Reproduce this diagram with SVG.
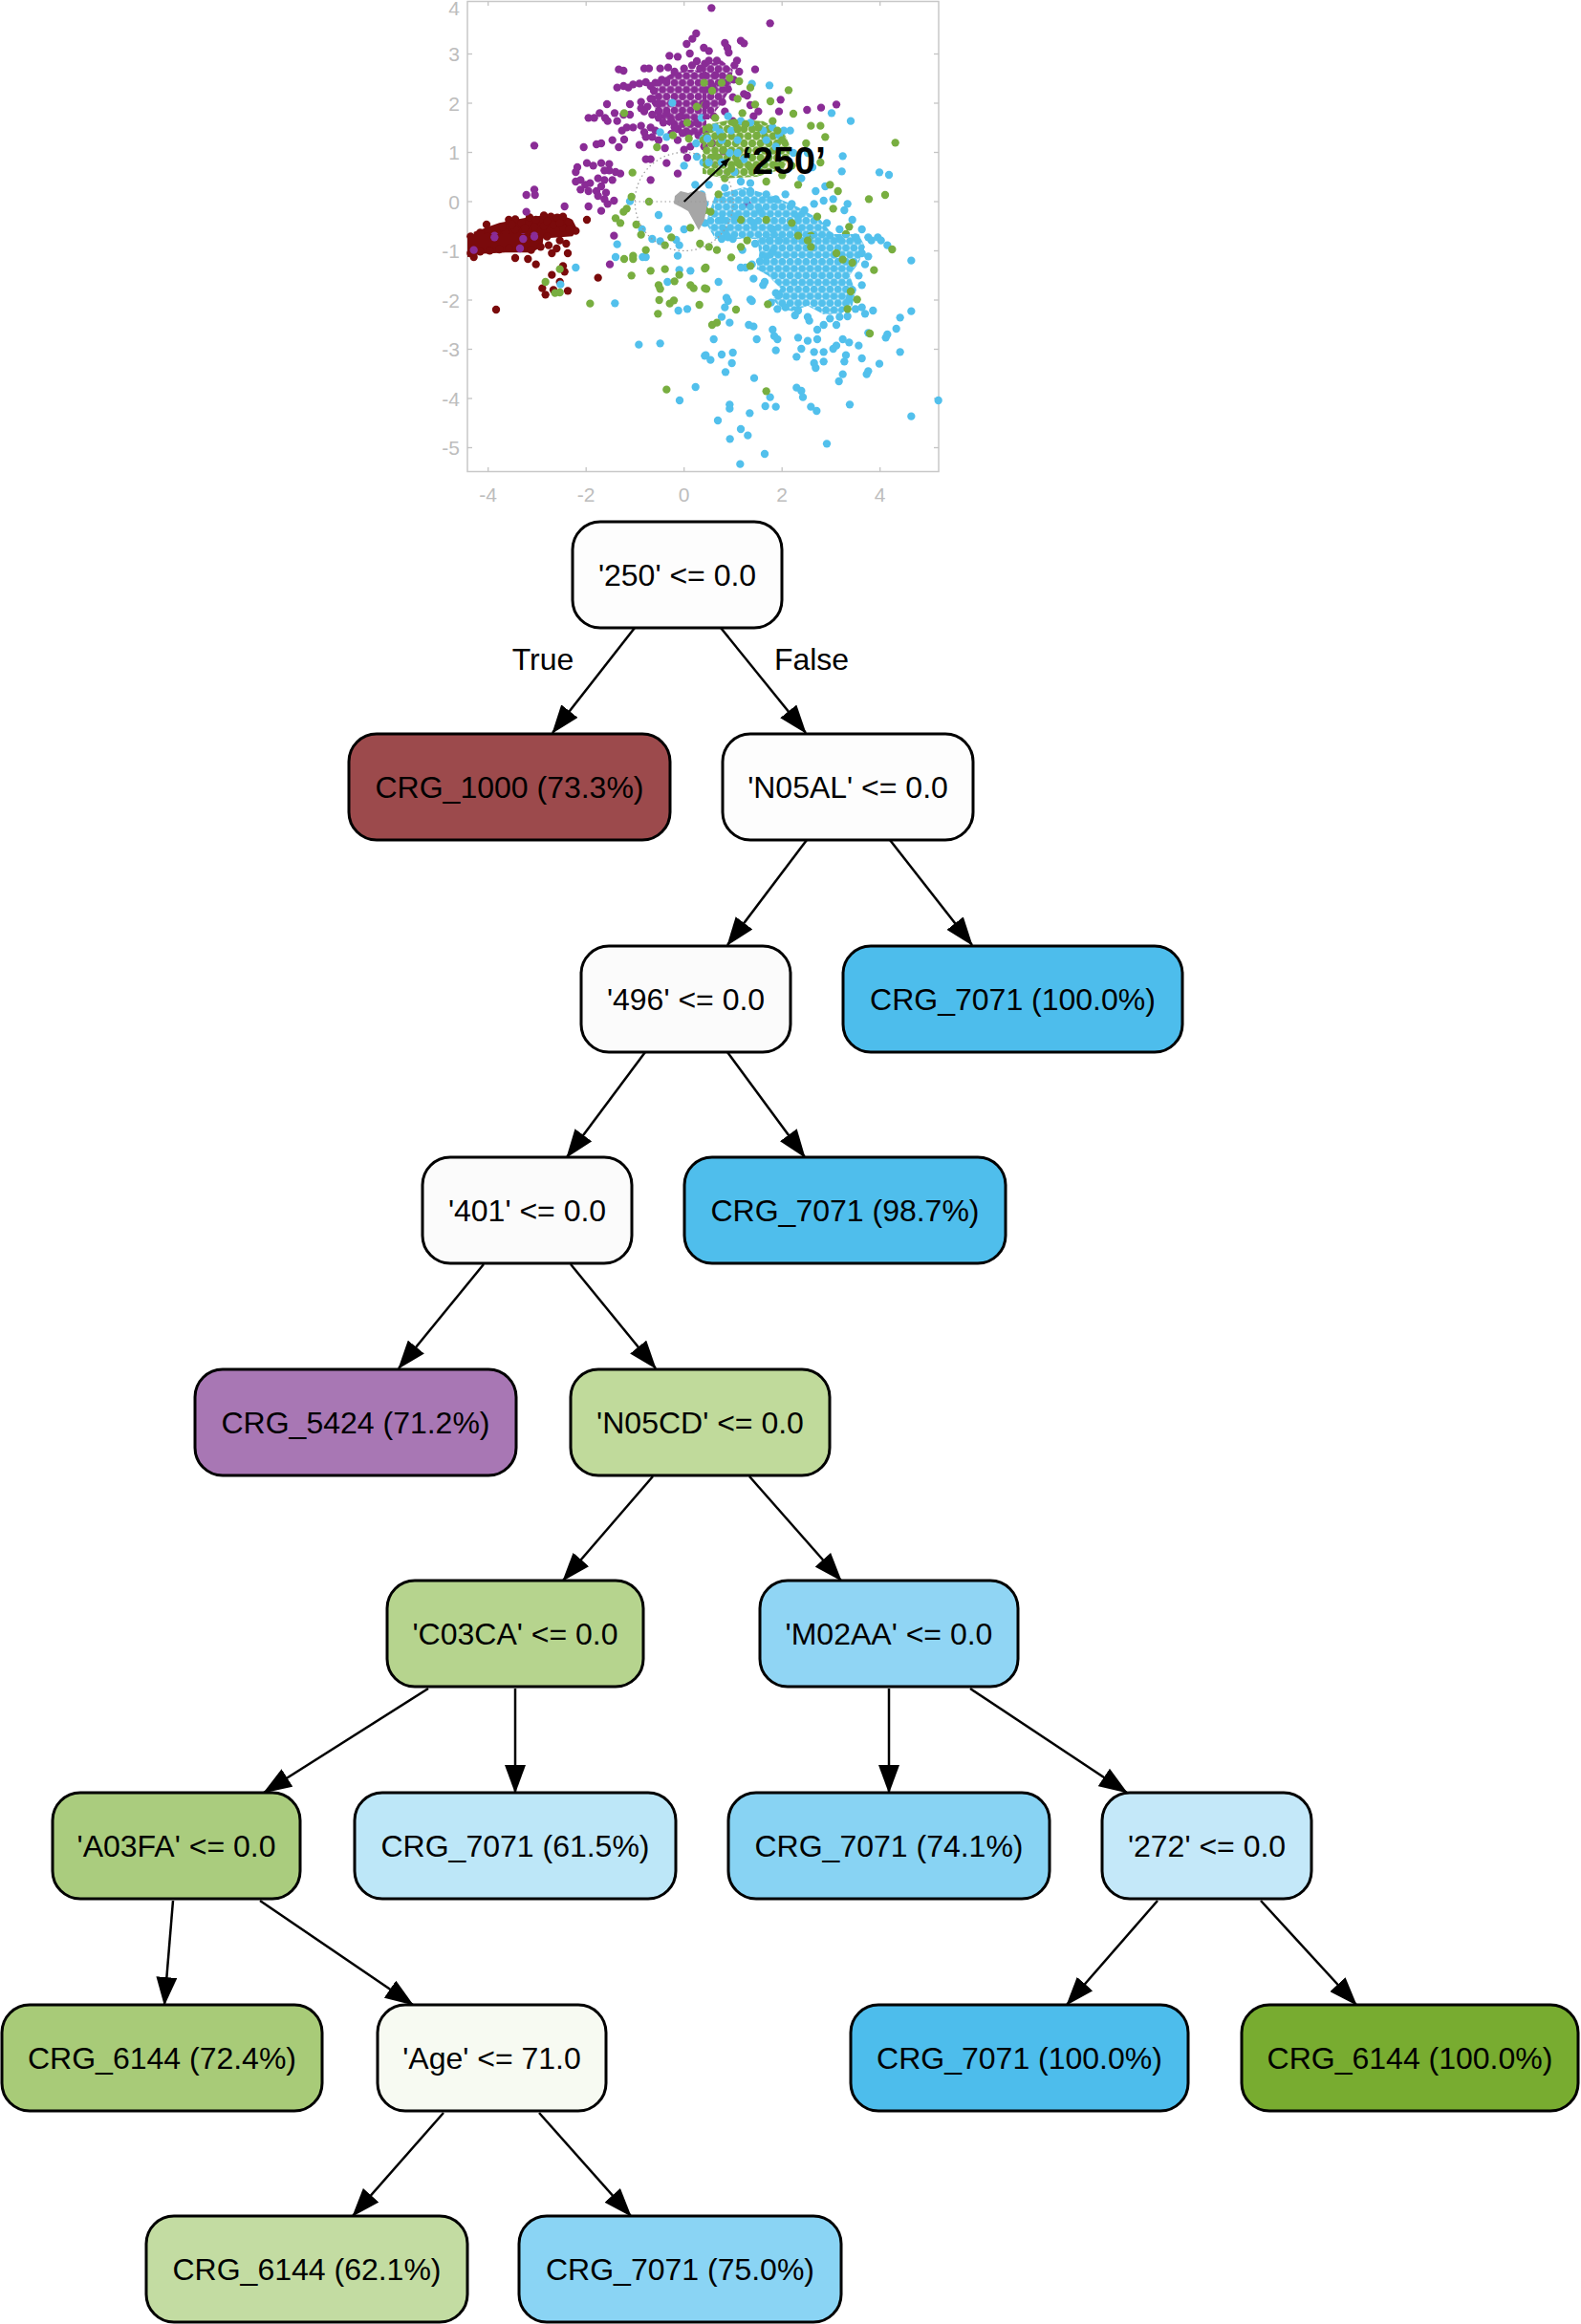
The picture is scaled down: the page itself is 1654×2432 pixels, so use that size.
<svg xmlns="http://www.w3.org/2000/svg" width="1654" height="2432" viewBox="0 0 1654 2432">
<defs>
<marker id="ah" markerUnits="userSpaceOnUse" markerWidth="30" markerHeight="22" refX="29" refY="11" orient="auto"><path d="M0,0 L30,11 L0,22 z" fill="#000"/></marker>
<marker id="ahs" markerUnits="userSpaceOnUse" markerWidth="10" markerHeight="8" refX="9" refY="4" orient="auto"><path d="M0,0 L10,4 L0,8 z" fill="#000"/></marker>
<pattern id="pp" patternUnits="userSpaceOnUse" width="25" height="43.3"><g fill="#8a2c96"><circle cx="0" cy="0" r="12.5"/><circle cx="25" cy="0" r="12.5"/><circle cx="12.5" cy="21.65" r="12.5"/><circle cx="0" cy="43.3" r="12.5"/><circle cx="25" cy="43.3" r="12.5"/></g></pattern>
<pattern id="pcy" patternUnits="userSpaceOnUse" width="25" height="43.3"><g fill="#52c0ec"><circle cx="0" cy="0" r="12.5"/><circle cx="25" cy="0" r="12.5"/><circle cx="12.5" cy="21.65" r="12.5"/><circle cx="0" cy="43.3" r="12.5"/><circle cx="25" cy="43.3" r="12.5"/></g></pattern>
<pattern id="pg" patternUnits="userSpaceOnUse" width="26" height="45"><g fill="#78ae40"><circle cx="0" cy="0" r="12.5"/><circle cx="26" cy="0" r="12.5"/><circle cx="13" cy="22.5" r="12.5"/><circle cx="0" cy="45" r="12.5"/><circle cx="26" cy="45" r="12.5"/></g></pattern>
</defs>
<style>
.n rect{stroke:#000;stroke-width:3}
.n text,.lbl{font-family:"Liberation Sans",Arial,Helvetica,sans-serif;font-size:32px;text-anchor:middle;fill:#000}
#connectors line{stroke:#000;stroke-width:2.5;marker-end:url(#ah)}
.m{fill:#7a0a0b}.p{fill:#8a2c96}.g{fill:#78ae40}.c{fill:#52c0ec}.gr{fill:#a6a6a6}
.ax text{font-family:"Liberation Sans",Arial,sans-serif;font-size:21px;fill:#bdbdbd}
.ax line{stroke:#c4c4c4;stroke-width:1.3}
</style>
<rect width="1654" height="2432" fill="#fff"/>

<g id="scatter">
<g class="ax">
<rect x="489" y="1.5" width="493" height="492" fill="none" stroke="#c8c8c8" stroke-width="1.5"/>
<line x1="510.7" y1="1.5" x2="510.7" y2="6"/><line x1="613.2" y1="1.5" x2="613.2" y2="6"/><line x1="715.7" y1="1.5" x2="715.7" y2="6"/><line x1="818.2" y1="1.5" x2="818.2" y2="6"/><line x1="920.7" y1="1.5" x2="920.7" y2="6"/>
<line x1="510.7" y1="493.5" x2="510.7" y2="489"/><line x1="613.2" y1="493.5" x2="613.2" y2="489"/><line x1="715.7" y1="493.5" x2="715.7" y2="489"/><line x1="818.2" y1="493.5" x2="818.2" y2="489"/><line x1="920.7" y1="493.5" x2="920.7" y2="489"/>
<line x1="489" y1="56.5" x2="494" y2="56.5"/><line x1="489" y1="108" x2="494" y2="108"/><line x1="489" y1="159.5" x2="494" y2="159.5"/><line x1="489" y1="211" x2="494" y2="211"/><line x1="489" y1="262.5" x2="494" y2="262.5"/><line x1="489" y1="314" x2="494" y2="314"/><line x1="489" y1="365.5" x2="494" y2="365.5"/><line x1="489" y1="417" x2="494" y2="417"/><line x1="489" y1="468.5" x2="494" y2="468.5"/>
<line x1="982" y1="56.5" x2="977" y2="56.5"/><line x1="982" y1="108" x2="977" y2="108"/><line x1="982" y1="159.5" x2="977" y2="159.5"/><line x1="982" y1="211" x2="977" y2="211"/><line x1="982" y1="262.5" x2="977" y2="262.5"/><line x1="982" y1="314" x2="977" y2="314"/><line x1="982" y1="365.5" x2="977" y2="365.5"/><line x1="982" y1="417" x2="977" y2="417"/><line x1="982" y1="468.5" x2="977" y2="468.5"/>
<g text-anchor="end">
<text x="481" y="16">4</text><text x="481" y="64">3</text><text x="481" y="115.5">2</text><text x="481" y="167">1</text><text x="481" y="218.5">0</text><text x="481" y="270">-1</text><text x="481" y="321.5">-2</text><text x="481" y="373">-3</text><text x="481" y="424.5">-4</text><text x="481" y="476">-5</text>
</g>
<g text-anchor="middle">
<text x="510.7" y="525">-4</text><text x="613.2" y="525">-2</text><text x="715.7" y="525">0</text><text x="818.2" y="525">2</text><text x="920.7" y="525">4</text>
</g>
</g>

<!-- Q1 -->
<g transform="translate(489,0) scale(0.33333)">
<path class="m" d="M20,728 L100,700 L200,680 L290,672 L330,690 L345,720 L330,742 L250,748 L150,750 L20,752 z"/>
<g class="m">
<circle cx="60" cy="705" r="12.5"/><circle cx="130" cy="690" r="12.5"/><circle cx="150" cy="688" r="12.5"/><circle cx="170" cy="700" r="12.5"/><circle cx="195" cy="682" r="12.5"/><circle cx="215" cy="690" r="12.5"/><circle cx="240" cy="676" r="12.5"/><circle cx="262" cy="680" r="12.5"/><circle cx="282" cy="683" r="12.5"/><circle cx="300" cy="680" r="12.5"/><circle cx="318" cy="698" r="12.5"/><circle cx="340" cy="725" r="12.5"/><circle cx="300" cy="715" r="12.5"/><circle cx="270" cy="706" r="12.5"/><circle cx="240" cy="710" r="12.5"/><circle cx="210" cy="712" r="12.5"/><circle cx="180" cy="716" r="12.5"/><circle cx="150" cy="720" r="12.5"/><circle cx="120" cy="730" r="12.5"/><circle cx="92" cy="736" r="12.5"/><circle cx="62" cy="742" r="12.5"/><circle cx="32" cy="746" r="12.5"/><circle cx="10" cy="742" r="12.5"/><circle cx="375" cy="690" r="12.5"/><circle cx="250" cy="695" r="12.5"/><circle cx="110" cy="712" r="12.5"/><circle cx="140" cy="705" r="12.5"/><circle cx="290" cy="700" r="12.5"/><circle cx="320" cy="720" r="12.5"/><circle cx="40" cy="730" r="12.5"/>
</g>
<path fill="url(#pp)" d="M600,255 L645,228 L700,218 L750,225 L750,415 L700,425 L660,412 L625,390 L598,355 L578,325 L590,290 z"/>
<g class="p">
<circle cx="718" cy="105" r="12.5"/><circle cx="706" cy="122" r="12.5"/><circle cx="688" cy="138" r="12.5"/><circle cx="634" cy="175" r="12.5"/><circle cx="660" cy="178" r="12.5"/><circle cx="698" cy="168" r="12.5"/><circle cx="720" cy="192" r="12.5"/><circle cx="742" cy="150" r="12.5"/>
<circle cx="475" cy="218" r="12.5"/><circle cx="490" cy="222" r="12.5"/><circle cx="555" cy="215" r="12.5"/><circle cx="570" cy="215" r="12.5"/><circle cx="605" cy="215" r="12.5"/><circle cx="630" cy="212" r="12.5"/><circle cx="650" cy="225" r="12.5"/><circle cx="680" cy="215" r="12.5"/><circle cx="730" cy="215" r="12.5"/><circle cx="705" cy="205" r="12.5"/><circle cx="745" cy="200" r="12.5"/>
<circle cx="470" cy="275" r="12.5"/><circle cx="490" cy="270" r="12.5"/><circle cx="505" cy="275" r="12.5"/><circle cx="520" cy="265" r="12.5"/><circle cx="540" cy="262" r="12.5"/><circle cx="560" cy="258" r="12.5"/><circle cx="575" cy="270" r="12.5"/><circle cx="590" cy="260" r="12.5"/><circle cx="610" cy="250" r="12.5"/><circle cx="625" cy="255" r="12.5"/><circle cx="585" cy="285" r="12.5"/><circle cx="580" cy="310" r="12.5"/>
<circle cx="438" cy="327" r="12.5"/><circle cx="510" cy="327" r="12.5"/><circle cx="545" cy="320" r="12.5"/><circle cx="575" cy="310" r="12.5"/><circle cx="600" cy="325" r="12.5"/><circle cx="600" cy="350" r="12.5"/><circle cx="625" cy="355" r="12.5"/><circle cx="565" cy="335" r="12.5"/>
<circle cx="380" cy="370" r="12.5"/><circle cx="398" cy="370" r="12.5"/><circle cx="415" cy="355" r="12.5"/><circle cx="432" cy="370" r="12.5"/><circle cx="440" cy="380" r="12.5"/><circle cx="462" cy="355" r="12.5"/><circle cx="470" cy="380" r="12.5"/><circle cx="490" cy="360" r="12.5"/><circle cx="510" cy="360" r="12.5"/><circle cx="545" cy="340" r="12.5"/><circle cx="555" cy="350" r="12.5"/><circle cx="580" cy="360" r="12.5"/><circle cx="600" cy="370" r="12.5"/><circle cx="640" cy="380" r="12.5"/><circle cx="670" cy="365" r="12.5"/><circle cx="720" cy="385" r="12.5"/><circle cx="615" cy="385" r="12.5"/>
<circle cx="485" cy="410" r="12.5"/><circle cx="500" cy="400" r="12.5"/><circle cx="520" cy="400" r="12.5"/><circle cx="545" cy="395" r="12.5"/><circle cx="555" cy="415" r="12.5"/><circle cx="575" cy="400" r="12.5"/><circle cx="590" cy="410" r="12.5"/><circle cx="580" cy="430" r="12.5"/><circle cx="600" cy="440" r="12.5"/><circle cx="640" cy="420" r="12.5"/><circle cx="660" cy="405" r="12.5"/><circle cx="695" cy="420" r="12.5"/><circle cx="745" cy="410" r="12.5"/><circle cx="675" cy="418" r="12.5"/><circle cx="725" cy="425" r="12.5"/><circle cx="650" cy="400" r="12.5"/>
<circle cx="210" cy="457" r="12.5"/><circle cx="365" cy="462" r="12.5"/><circle cx="405" cy="453" r="12.5"/><circle cx="420" cy="450" r="12.5"/><circle cx="455" cy="440" r="12.5"/><circle cx="475" cy="462" r="12.5"/><circle cx="492" cy="438" r="12.5"/><circle cx="540" cy="455" r="12.5"/><circle cx="560" cy="430" r="12.5"/><circle cx="620" cy="465" r="12.5"/><circle cx="660" cy="440" r="12.5"/><circle cx="700" cy="460" r="12.5"/><circle cx="680" cy="470" r="12.5"/>
<circle cx="560" cy="500" r="12.5"/><circle cx="575" cy="500" r="12.5"/><circle cx="625" cy="512" r="12.5"/><circle cx="660" cy="545" r="12.5"/><circle cx="690" cy="495" r="12.5"/>
<circle cx="345" cy="525" r="12.5"/><circle cx="340" cy="540" r="12.5"/><circle cx="375" cy="512" r="12.5"/><circle cx="395" cy="520" r="12.5"/><circle cx="420" cy="512" r="12.5"/><circle cx="445" cy="515" r="12.5"/><circle cx="445" cy="535" r="12.5"/><circle cx="465" cy="540" r="12.5"/><circle cx="480" cy="545" r="12.5"/><circle cx="430" cy="535" r="12.5"/>
<circle cx="340" cy="570" r="12.5"/><circle cx="355" cy="565" r="12.5"/><circle cx="370" cy="580" r="12.5"/><circle cx="385" cy="575" r="12.5"/><circle cx="410" cy="560" r="12.5"/><circle cx="430" cy="565" r="12.5"/><circle cx="455" cy="565" r="12.5"/><circle cx="420" cy="585" r="12.5"/><circle cx="355" cy="595" r="12.5"/><circle cx="380" cy="600" r="12.5"/><circle cx="405" cy="600" r="12.5"/><circle cx="410" cy="615" r="12.5"/><circle cx="435" cy="605" r="12.5"/><circle cx="460" cy="630" r="12.5"/><circle cx="430" cy="625" r="12.5"/><circle cx="575" cy="565" r="12.5"/>
<circle cx="185" cy="612" r="12.5"/><circle cx="210" cy="595" r="12.5"/><circle cx="212" cy="612" r="12.5"/><circle cx="305" cy="648" r="12.5"/><circle cx="185" cy="665" r="12.5"/><circle cx="380" cy="648" r="12.5"/><circle cx="420" cy="662" r="12.5"/><circle cx="440" cy="640" r="12.5"/>
<circle cx="85" cy="740" r="12.5"/><circle cx="175" cy="745" r="12.5"/><circle cx="210" cy="740" r="12.5"/>
</g>
<g class="c">
<circle cx="643" cy="323" r="12.5"/><circle cx="735" cy="370" r="12.5"/><circle cx="605" cy="415" r="12.5"/><circle cx="625" cy="430" r="12.5"/><circle cx="740" cy="435" r="12.5"/><circle cx="718" cy="450" r="12.5"/><circle cx="720" cy="492" r="12.5"/><circle cx="680" cy="520" r="12.5"/><circle cx="740" cy="510" r="12.5"/><circle cx="510" cy="632" r="12.5"/><circle cx="715" cy="580" r="12.5"/><circle cx="735" cy="610" r="12.5"/><circle cx="600" cy="675" r="12.5"/><circle cx="630" cy="718" r="12.5"/><circle cx="548" cy="720" r="12.5"/><circle cx="680" cy="720" r="12.5"/><circle cx="745" cy="700" r="12.5"/><circle cx="745" cy="640" r="12.5"/>
</g>
<g class="g">
<circle cx="720" cy="335" r="12.5"/><circle cx="492" cy="355" r="12.5"/><circle cx="690" cy="385" r="12.5"/><circle cx="695" cy="435" r="12.5"/><circle cx="645" cy="425" r="12.5"/><circle cx="595" cy="462" r="12.5"/><circle cx="518" cy="542" r="12.5"/><circle cx="570" cy="633" r="12.5"/><circle cx="515" cy="618" r="12.5"/><circle cx="500" cy="655" r="12.5"/><circle cx="490" cy="665" r="12.5"/><circle cx="465" cy="685" r="12.5"/><circle cx="480" cy="700" r="12.5"/><circle cx="530" cy="705" r="12.5"/><circle cx="700" cy="715" r="12.5"/><circle cx="745" cy="660" r="12.5"/><circle cx="720" cy="655" r="12.5"/><circle cx="745" cy="330" r="12.5"/><circle cx="740" cy="440" r="12.5"/>
</g>
</g>

<!-- Q3 -->
<g transform="translate(489,245) scale(0.33333)">
<path class="m" d="M0,0 L240,0 L235,40 L200,58 L120,58 L40,62 L0,72 z"/>
<g class="m">
<circle cx="150" cy="75" r="12.5"/><circle cx="190" cy="78" r="12.5"/><circle cx="215" cy="95" r="12.5"/><circle cx="200" cy="50" r="12.5"/><circle cx="230" cy="40" r="12.5"/><circle cx="255" cy="35" r="12.5"/><circle cx="265" cy="60" r="12.5"/><circle cx="290" cy="20" r="12.5"/><circle cx="310" cy="30" r="12.5"/><circle cx="315" cy="60" r="12.5"/><circle cx="300" cy="100" r="12.5"/><circle cx="305" cy="118" r="12.5"/><circle cx="265" cy="128" r="12.5"/><circle cx="235" cy="170" r="12.5"/><circle cx="245" cy="190" r="12.5"/><circle cx="270" cy="175" r="12.5"/><circle cx="290" cy="150" r="12.5"/><circle cx="315" cy="178" r="12.5"/><circle cx="410" cy="137" r="12.5"/><circle cx="90" cy="237" r="12.5"/><circle cx="10" cy="60" r="12.5"/><circle cx="40" cy="55" r="12.5"/><circle cx="70" cy="52" r="12.5"/><circle cx="100" cy="48" r="12.5"/><circle cx="130" cy="44" r="12.5"/><circle cx="250" cy="8" r="12.5"/><circle cx="280" cy="45" r="12.5"/><circle cx="20" cy="72" r="12.5"/>
</g>
<g class="p">
<circle cx="85" cy="10" r="12.5"/><circle cx="175" cy="15" r="12.5"/><circle cx="210" cy="8" r="12.5"/><circle cx="20" cy="50" r="12.5"/><circle cx="165" cy="45" r="12.5"/><circle cx="460" cy="5" r="12.5"/><circle cx="447" cy="95" r="12.5"/>
</g>
<g class="c">
<circle cx="340" cy="105" r="12.5"/><circle cx="292" cy="158" r="12.5"/><circle cx="470" cy="32" r="12.5"/><circle cx="465" cy="72" r="12.5"/><circle cx="550" cy="72" r="12.5"/><circle cx="560" cy="72" r="12.5"/><circle cx="580" cy="15" r="12.5"/><circle cx="605" cy="22" r="12.5"/><circle cx="655" cy="18" r="12.5"/><circle cx="665" cy="35" r="12.5"/><circle cx="660" cy="68" r="12.5"/><circle cx="665" cy="112" r="12.5"/><circle cx="700" cy="115" r="12.5"/><circle cx="628" cy="150" r="12.5"/><circle cx="690" cy="235" r="12.5"/><circle cx="662" cy="240" r="12.5"/><circle cx="463" cy="217" r="12.5"/><circle cx="538" cy="347" r="12.5"/><circle cx="605" cy="343" r="12.5"/><circle cx="745" cy="382" r="12.5"/><circle cx="716" cy="480" r="12.5"/><circle cx="666" cy="522" r="12.5"/>
</g>
<g class="g">
<circle cx="290" cy="110" r="12.5"/><circle cx="245" cy="150" r="12.5"/><circle cx="275" cy="185" r="12.5"/><circle cx="290" cy="183" r="12.5"/><circle cx="545" cy="2" r="12.5"/><circle cx="640" cy="10" r="12.5"/><circle cx="620" cy="35" r="12.5"/><circle cx="492" cy="78" r="12.5"/><circle cx="520" cy="68" r="12.5"/><circle cx="520" cy="78" r="12.5"/><circle cx="560" cy="50" r="12.5"/><circle cx="515" cy="130" r="12.5"/><circle cx="575" cy="115" r="12.5"/><circle cx="620" cy="110" r="12.5"/><circle cx="650" cy="148" r="12.5"/><circle cx="665" cy="128" r="12.5"/><circle cx="600" cy="160" r="12.5"/><circle cx="605" cy="172" r="12.5"/><circle cx="700" cy="160" r="12.5"/><circle cx="710" cy="170" r="12.5"/><circle cx="745" cy="108" r="12.5"/><circle cx="745" cy="170" r="12.5"/><circle cx="602" cy="207" r="12.5"/><circle cx="635" cy="218" r="12.5"/><circle cx="648" cy="208" r="12.5"/><circle cx="728" cy="222" r="12.5"/><circle cx="598" cy="250" r="12.5"/><circle cx="385" cy="218" r="12.5"/><circle cx="625" cy="488" r="12.5"/><circle cx="730" cy="30" r="12.5"/>
</g>
</g>

<!-- Q2 -->
<g transform="translate(735,0) scale(0.33333)">
<path fill="url(#pp)" d="M0,205 L60,190 L95,218 L88,278 L58,328 L20,375 L0,375 z"/>
<g class="p">
<circle cx="28" cy="25" r="12.5"/><circle cx="212" cy="73" r="12.5"/><circle cx="70" cy="135" r="12.5"/><circle cx="78" cy="150" r="12.5"/><circle cx="120" cy="128" r="12.5"/><circle cx="130" cy="136" r="12.5"/><circle cx="20" cy="160" r="12.5"/><circle cx="82" cy="165" r="12.5"/><circle cx="108" cy="190" r="12.5"/><circle cx="100" cy="205" r="12.5"/><circle cx="115" cy="225" r="12.5"/><circle cx="165" cy="218" r="12.5"/><circle cx="20" cy="190" r="12.5"/><circle cx="45" cy="190" r="12.5"/><circle cx="40" cy="235" r="12.5"/><circle cx="30" cy="270" r="12.5"/><circle cx="80" cy="280" r="12.5"/><circle cx="95" cy="305" r="12.5"/><circle cx="130" cy="295" r="12.5"/><circle cx="140" cy="300" r="12.5"/><circle cx="150" cy="330" r="12.5"/><circle cx="175" cy="350" r="12.5"/><circle cx="160" cy="365" r="12.5"/><circle cx="10" cy="330" r="12.5"/><circle cx="70" cy="350" r="12.5"/><circle cx="95" cy="380" r="12.5"/><circle cx="10" cy="410" r="12.5"/><circle cx="30" cy="450" r="12.5"/><circle cx="5" cy="460" r="12.5"/><circle cx="245" cy="313" r="12.5"/><circle cx="240" cy="350" r="12.5"/><circle cx="328" cy="345" r="12.5"/><circle cx="372" cy="338" r="12.5"/><circle cx="420" cy="328" r="12.5"/><circle cx="65" cy="475" r="12.5"/><circle cx="140" cy="640" r="12.5"/><circle cx="98" cy="250" r="12.5"/><circle cx="62" cy="320" r="12.5"/><circle cx="35" cy="365" r="12.5"/>
</g>
<path fill="url(#pg)" d="M0,395 L90,375 L190,380 L255,415 L280,470 L255,530 L170,555 L70,560 L0,545 z"/>
<path fill="url(#pcy)" d="M40,612 L130,588 L220,615 L300,650 L370,690 L420,750 L40,750 L10,700 z"/>
<g class="c">
<circle cx="155" cy="263" r="12.5"/><circle cx="210" cy="268" r="12.5"/><circle cx="405" cy="355" r="12.5"/><circle cx="465" cy="380" r="12.5"/><circle cx="120" cy="380" r="12.5"/><circle cx="150" cy="385" r="12.5"/><circle cx="80" cy="365" r="12.5"/><circle cx="55" cy="415" r="12.5"/><circle cx="15" cy="435" r="12.5"/><circle cx="40" cy="400" r="12.5"/><circle cx="60" cy="440" r="12.5"/><circle cx="90" cy="410" r="12.5"/><circle cx="110" cy="440" r="12.5"/><circle cx="190" cy="410" r="12.5"/><circle cx="220" cy="400" r="12.5"/><circle cx="255" cy="410" r="12.5"/><circle cx="275" cy="410" r="12.5"/><circle cx="240" cy="425" r="12.5"/><circle cx="200" cy="440" r="12.5"/><circle cx="230" cy="460" r="12.5"/><circle cx="285" cy="480" r="12.5"/><circle cx="330" cy="480" r="12.5"/><circle cx="440" cy="490" r="12.5"/><circle cx="437" cy="538" r="12.5"/><circle cx="555" cy="541" r="12.5"/><circle cx="585" cy="549" r="12.5"/><circle cx="345" cy="525" r="12.5"/><circle cx="310" cy="560" r="12.5"/><circle cx="385" cy="585" r="12.5"/><circle cx="355" cy="600" r="12.5"/><circle cx="85" cy="480" r="12.5"/><circle cx="110" cy="480" r="12.5"/><circle cx="130" cy="500" r="12.5"/><circle cx="20" cy="510" r="12.5"/><circle cx="60" cy="510" r="12.5"/><circle cx="100" cy="540" r="12.5"/><circle cx="260" cy="610" r="12.5"/><circle cx="280" cy="640" r="12.5"/><circle cx="320" cy="660" r="12.5"/><circle cx="350" cy="640" r="12.5"/><circle cx="380" cy="630" r="12.5"/><circle cx="410" cy="625" r="12.5"/><circle cx="455" cy="640" r="12.5"/><circle cx="445" cy="660" r="12.5"/><circle cx="470" cy="690" r="12.5"/><circle cx="500" cy="720" r="12.5"/><circle cx="550" cy="745" r="12.5"/><circle cx="520" cy="745" r="12.5"/><circle cx="20" cy="580" r="12.5"/><circle cx="150" cy="575" r="12.5"/><circle cx="430" cy="720" r="12.5"/>
</g>
<g class="g">
<circle cx="85" cy="245" r="12.5"/><circle cx="60" cy="260" r="12.5"/><circle cx="5" cy="260" r="12.5"/><circle cx="30" cy="285" r="12.5"/><circle cx="115" cy="255" r="12.5"/><circle cx="110" cy="310" r="12.5"/><circle cx="150" cy="275" r="12.5"/><circle cx="270" cy="283" r="12.5"/><circle cx="213" cy="318" r="12.5"/><circle cx="285" cy="357" r="12.5"/><circle cx="165" cy="328" r="12.5"/><circle cx="125" cy="355" r="12.5"/><circle cx="100" cy="385" r="12.5"/><circle cx="40" cy="370" r="12.5"/><circle cx="20" cy="400" r="12.5"/><circle cx="110" cy="405" r="12.5"/><circle cx="135" cy="390" r="12.5"/><circle cx="175" cy="400" r="12.5"/><circle cx="220" cy="380" r="12.5"/><circle cx="235" cy="410" r="12.5"/><circle cx="250" cy="440" r="12.5"/><circle cx="340" cy="395" r="12.5"/><circle cx="370" cy="395" r="12.5"/><circle cx="385" cy="430" r="12.5"/><circle cx="325" cy="450" r="12.5"/><circle cx="370" cy="510" r="12.5"/><circle cx="170" cy="425" r="12.5"/><circle cx="60" cy="430" r="12.5"/><circle cx="65" cy="470" r="12.5"/><circle cx="40" cy="490" r="12.5"/><circle cx="30" cy="540" r="12.5"/><circle cx="70" cy="560" r="12.5"/><circle cx="90" cy="530" r="12.5"/><circle cx="110" cy="510" r="12.5"/><circle cx="150" cy="525" r="12.5"/><circle cx="200" cy="570" r="12.5"/><circle cx="230" cy="520" r="12.5"/><circle cx="250" cy="550" r="12.5"/><circle cx="280" cy="520" r="12.5"/><circle cx="300" cy="580" r="12.5"/><circle cx="400" cy="580" r="12.5"/><circle cx="425" cy="600" r="12.5"/><circle cx="605" cy="448" r="12.5"/><circle cx="522" cy="625" r="12.5"/><circle cx="573" cy="612" r="12.5"/><circle cx="410" cy="655" r="12.5"/><circle cx="360" cy="680" r="12.5"/><circle cx="50" cy="610" r="12.5"/><circle cx="25" cy="665" r="12.5"/><circle cx="120" cy="690" r="12.5"/><circle cx="200" cy="690" r="12.5"/><circle cx="280" cy="700" r="12.5"/><circle cx="340" cy="740" r="12.5"/><circle cx="460" cy="712" r="12.5"/><circle cx="450" cy="735" r="12.5"/>
</g>
<g class="c">
<circle cx="120" cy="570" r="12.5"/><circle cx="70" cy="590" r="12.5"/><circle cx="150" cy="600" r="12.5"/><circle cx="200" cy="610" r="12.5"/><circle cx="230" cy="625" r="12.5"/><circle cx="180" cy="660" r="12.5"/><circle cx="160" cy="700" r="12.5"/><circle cx="100" cy="680" r="12.5"/><circle cx="60" cy="690" r="12.5"/><circle cx="70" cy="725" r="12.5"/><circle cx="220" cy="720" r="12.5"/><circle cx="300" cy="680" r="12.5"/><circle cx="390" cy="700" r="12.5"/><circle cx="300" cy="730" r="12.5"/><circle cx="400" cy="740" r="12.5"/>
</g>
</g>

<!-- Q4 -->
<g transform="translate(735,245) scale(0.33333)">
<path fill="url(#pcy)" d="M170,0 L490,0 L510,40 L490,90 L462,130 L480,180 L470,225 L435,250 L380,252 L330,225 L280,242 L245,232 L220,205 L245,170 L205,130 L170,110 L178,60 z"/>
<g class="c">
<circle cx="60" cy="15" r="12.5"/><circle cx="80" cy="10" r="12.5"/><circle cx="95" cy="15" r="12.5"/><circle cx="125" cy="50" r="12.5"/><circle cx="120" cy="105" r="12.5"/><circle cx="135" cy="105" r="12.5"/><circle cx="155" cy="95" r="12.5"/><circle cx="180" cy="85" r="12.5"/><circle cx="200" cy="70" r="12.5"/><circle cx="220" cy="55" r="12.5"/><circle cx="240" cy="20" r="12.5"/><circle cx="430" cy="15" r="12.5"/><circle cx="480" cy="10" r="12.5"/><circle cx="530" cy="20" r="12.5"/><circle cx="560" cy="20" r="12.5"/><circle cx="580" cy="35" r="12.5"/><circle cx="655" cy="83" r="12.5"/><circle cx="500" cy="60" r="12.5"/><circle cx="520" cy="70" r="12.5"/><circle cx="490" cy="130" r="12.5"/><circle cx="500" cy="160" r="12.5"/><circle cx="480" cy="235" r="12.5"/><circle cx="510" cy="250" r="12.5"/><circle cx="535" cy="240" r="12.5"/><circle cx="500" cy="230" r="12.5"/><circle cx="520" cy="310" r="12.5"/><circle cx="490" cy="350" r="12.5"/><circle cx="500" cy="390" r="12.5"/><circle cx="515" cy="440" r="12.5"/><circle cx="520" cy="430" r="12.5"/><circle cx="460" cy="340" r="12.5"/><circle cx="440" cy="330" r="12.5"/><circle cx="420" cy="350" r="12.5"/><circle cx="410" cy="360" r="12.5"/><circle cx="450" cy="380" r="12.5"/><circle cx="445" cy="400" r="12.5"/><circle cx="440" cy="440" r="12.5"/><circle cx="428" cy="462" r="12.5"/><circle cx="380" cy="370" r="12.5"/><circle cx="350" cy="370" r="12.5"/><circle cx="380" cy="400" r="12.5"/><circle cx="350" cy="405" r="12.5"/><circle cx="355" cy="420" r="12.5"/><circle cx="330" cy="335" r="12.5"/><circle cx="360" cy="330" r="12.5"/><circle cx="300" cy="325" r="12.5"/><circle cx="310" cy="360" r="12.5"/><circle cx="295" cy="385" r="12.5"/><circle cx="360" cy="300" r="12.5"/><circle cx="380" cy="285" r="12.5"/><circle cx="420" cy="285" r="12.5"/><circle cx="430" cy="260" r="12.5"/><circle cx="400" cy="265" r="12.5"/><circle cx="330" cy="260" r="12.5"/><circle cx="335" cy="272" r="12.5"/><circle cx="300" cy="240" r="12.5"/><circle cx="290" cy="255" r="12.5"/><circle cx="260" cy="230" r="12.5"/><circle cx="235" cy="235" r="12.5"/><circle cx="230" cy="185" r="12.5"/><circle cx="240" cy="190" r="12.5"/><circle cx="155" cy="210" r="12.5"/><circle cx="150" cy="205" r="12.5"/><circle cx="160" cy="140" r="12.5"/><circle cx="190" cy="160" r="12.5"/><circle cx="195" cy="150" r="12.5"/><circle cx="50" cy="150" r="12.5"/><circle cx="75" cy="200" r="12.5"/><circle cx="80" cy="210" r="12.5"/><circle cx="70" cy="230" r="12.5"/><circle cx="60" cy="260" r="12.5"/><circle cx="85" cy="278" r="12.5"/><circle cx="145" cy="285" r="12.5"/><circle cx="160" cy="290" r="12.5"/><circle cx="170" cy="330" r="12.5"/><circle cx="220" cy="300" r="12.5"/><circle cx="225" cy="320" r="12.5"/><circle cx="235" cy="330" r="12.5"/><circle cx="230" cy="365" r="12.5"/><circle cx="35" cy="330" r="12.5"/><circle cx="10" cy="380" r="12.5"/><circle cx="25" cy="395" r="12.5"/><circle cx="60" cy="378" r="12.5"/><circle cx="95" cy="372" r="12.5"/><circle cx="92" cy="405" r="12.5"/><circle cx="72" cy="433" r="12.5"/><circle cx="162" cy="452" r="12.5"/><circle cx="212" cy="512" r="12.5"/><circle cx="197" cy="540" r="12.5"/><circle cx="230" cy="542" r="12.5"/><circle cx="85" cy="535" r="12.5"/><circle cx="85" cy="548" r="12.5"/><circle cx="148" cy="562" r="12.5"/><circle cx="48" cy="585" r="12.5"/><circle cx="120" cy="612" r="12.5"/><circle cx="142" cy="632" r="12.5"/><circle cx="86" cy="643" r="12.5"/><circle cx="195" cy="690" r="12.5"/><circle cx="118" cy="722" r="12.5"/><circle cx="295" cy="482" r="12.5"/><circle cx="310" cy="492" r="12.5"/><circle cx="315" cy="512" r="12.5"/><circle cx="340" cy="542" r="12.5"/><circle cx="358" cy="555" r="12.5"/><circle cx="462" cy="535" r="12.5"/><circle cx="390" cy="658" r="12.5"/><circle cx="655" cy="572" r="12.5"/><circle cx="740" cy="522" r="12.5"/><circle cx="655" cy="242" r="12.5"/><circle cx="620" cy="262" r="12.5"/><circle cx="608" cy="297" r="12.5"/><circle cx="580" cy="315" r="12.5"/><circle cx="575" cy="325" r="12.5"/><circle cx="620" cy="370" r="12.5"/><circle cx="555" cy="407" r="12.5"/><circle cx="210" cy="20" r="12.5"/><circle cx="460" cy="205" r="12.5"/><circle cx="470" cy="175" r="12.5"/><circle cx="165" cy="30" r="12.5"/><circle cx="510" cy="95" r="12.5"/><circle cx="455" cy="258" r="12.5"/><circle cx="215" cy="215" r="12.5"/>
</g>
<g class="g">
<circle cx="20" cy="40" r="12.5"/><circle cx="45" cy="50" r="12.5"/><circle cx="10" cy="105" r="12.5"/><circle cx="90" cy="73" r="12.5"/><circle cx="12" cy="172" r="12.5"/><circle cx="30" cy="285" r="12.5"/><circle cx="45" cy="278" r="12.5"/><circle cx="105" cy="237" r="12.5"/><circle cx="205" cy="220" r="12.5"/><circle cx="200" cy="493" r="12.5"/><circle cx="538" cy="113" r="12.5"/><circle cx="595" cy="48" r="12.5"/><circle cx="465" cy="180" r="12.5"/><circle cx="485" cy="205" r="12.5"/><circle cx="455" cy="235" r="12.5"/><circle cx="525" cy="312" r="12.5"/><circle cx="300" cy="5" r="12.5"/><circle cx="330" cy="20" r="12.5"/><circle cx="340" cy="40" r="12.5"/><circle cx="420" cy="60" r="12.5"/><circle cx="440" cy="80" r="12.5"/><circle cx="470" cy="90" r="12.5"/><circle cx="150" cy="100" r="12.5"/><circle cx="120" cy="40" r="12.5"/><circle cx="140" cy="20" r="12.5"/>
</g>
</g>

<path class="gr" d="M706,205 L712,200 L720,202 L729,199 L738,202 L740,213 L737,230 L731,241 L725,230 L720,221 L713,217 L705,213 z"/>
<circle cx="715.7" cy="211" r="51.5" fill="none" stroke="#9a9a9a" stroke-width="1.2" stroke-dasharray="1.5 3"/>
<line x1="664" y1="211" x2="767" y2="211" stroke="#9a9a9a" stroke-width="1.2" stroke-dasharray="1.5 3"/>
<line x1="715.7" y1="211" x2="763" y2="166" stroke="#000" stroke-width="2" marker-end="url(#ahs)"/>
<text x="776" y="182" font-family="Liberation Sans, Arial, sans-serif" font-weight="bold" font-size="41" textLength="88" lengthAdjust="spacingAndGlyphs" fill="#000">‘250’</text>
</g>

<g id="connectors">
<line x1="664" y1="657" x2="578" y2="767"/>
<line x1="754" y1="657" x2="843" y2="767"/>
<line x1="844" y1="879" x2="761" y2="989"/>
<line x1="931" y1="879" x2="1017" y2="989"/>
<line x1="675" y1="1101" x2="593" y2="1211"/>
<line x1="761" y1="1101" x2="842" y2="1211"/>
<line x1="506" y1="1323" x2="417" y2="1432"/>
<line x1="597" y1="1323" x2="686" y2="1432"/>
<line x1="683" y1="1545" x2="589" y2="1654"/>
<line x1="784" y1="1545" x2="880" y2="1654"/>
<line x1="448" y1="1767" x2="276" y2="1876"/>
<line x1="539" y1="1767" x2="539" y2="1876"/>
<line x1="930" y1="1767" x2="930" y2="1876"/>
<line x1="1015" y1="1767" x2="1179" y2="1876"/>
<line x1="181" y1="1989" x2="172" y2="2098"/>
<line x1="272" y1="1989" x2="432" y2="2098"/>
<line x1="1211" y1="1989" x2="1116" y2="2098"/>
<line x1="1319" y1="1989" x2="1419" y2="2098"/>
<line x1="464" y1="2211" x2="369" y2="2319"/>
<line x1="564" y1="2211" x2="660" y2="2319"/>
<text class="lbl" x="568" y="701">True</text>
<text class="lbl" x="849" y="701">False</text>
</g>

<g id="n0" class="n"><rect x="599" y="546" width="219" height="111" rx="29" fill="#fdfdfd"/><text x="708.5" y="613">'250' &lt;= 0.0</text></g>
<g id="n1" class="n"><rect x="365" y="768" width="336" height="111" rx="29" fill="#9c4a4c"/><text x="533" y="835">CRG_1000 (73.3%)</text></g>
<g id="n2" class="n"><rect x="756" y="768" width="262" height="111" rx="29" fill="#fdfdfd"/><text x="887" y="835">'N05AL' &lt;= 0.0</text></g>
<g id="n3" class="n"><rect x="608" y="990" width="219" height="111" rx="29" fill="#fbfbfb"/><text x="717.5" y="1057">'496' &lt;= 0.0</text></g>
<g id="n4" class="n"><rect x="882" y="990" width="355" height="111" rx="29" fill="#4dbdec"/><text x="1059.5" y="1057">CRG_7071 (100.0%)</text></g>
<g id="n5" class="n"><rect x="442" y="1211" width="219" height="111" rx="29" fill="#fbfbfb"/><text x="551.5" y="1278">'401' &lt;= 0.0</text></g>
<g id="n6" class="n"><rect x="716" y="1211" width="336" height="111" rx="29" fill="#4fbeec"/><text x="884" y="1278">CRG_7071 (98.7%)</text></g>
<g id="n7" class="n"><rect x="204" y="1433" width="336" height="111" rx="29" fill="#a877b4"/><text x="372" y="1500">CRG_5424 (71.2%)</text></g>
<g id="n8" class="n"><rect x="597" y="1433" width="271" height="111" rx="29" fill="#c0da9b"/><text x="732.5" y="1500">'N05CD' &lt;= 0.0</text></g>
<g id="n9" class="n"><rect x="405" y="1654" width="268" height="111" rx="29" fill="#b6d48e"/><text x="539" y="1721">'C03CA' &lt;= 0.0</text></g>
<g id="n10" class="n"><rect x="795" y="1654" width="270" height="111" rx="29" fill="#90d5f4"/><text x="930" y="1721">'M02AA' &lt;= 0.0</text></g>
<g id="n11" class="n"><rect x="55" y="1876" width="259" height="111" rx="29" fill="#aacc7e"/><text x="184.5" y="1943">'A03FA' &lt;= 0.0</text></g>
<g id="n12" class="n"><rect x="371" y="1876" width="336" height="111" rx="29" fill="#bde7f8"/><text x="539" y="1943">CRG_7071 (61.5%)</text></g>
<g id="n13" class="n"><rect x="762" y="1876" width="336" height="111" rx="29" fill="#88d3f3"/><text x="930" y="1943">CRG_7071 (74.1%)</text></g>
<g id="n14" class="n"><rect x="1153" y="1876" width="219" height="111" rx="29" fill="#c4e8f9"/><text x="1262.5" y="1943">'272' &lt;= 0.0</text></g>
<g id="n15" class="n"><rect x="2" y="2098" width="335" height="111" rx="29" fill="#a8cb78"/><text x="169.5" y="2165">CRG_6144 (72.4%)</text></g>
<g id="n16" class="n"><rect x="395" y="2098" width="239" height="111" rx="29" fill="#f7faf2"/><text x="514.5" y="2165">'Age' &lt;= 71.0</text></g>
<g id="n17" class="n"><rect x="890" y="2098" width="353" height="111" rx="29" fill="#4dbdec"/><text x="1066.5" y="2165">CRG_7071 (100.0%)</text></g>
<g id="n18" class="n"><rect x="1299" y="2098" width="352" height="111" rx="29" fill="#78ac30"/><text x="1475" y="2165">CRG_6144 (100.0%)</text></g>
<g id="n19" class="n"><rect x="153" y="2319" width="336" height="111" rx="29" fill="#c3dca2"/><text x="321" y="2386">CRG_6144 (62.1%)</text></g>
<g id="n20" class="n"><rect x="543" y="2319" width="337" height="111" rx="29" fill="#8ad4f4"/><text x="711.5" y="2386">CRG_7071 (75.0%)</text></g>
</svg>
